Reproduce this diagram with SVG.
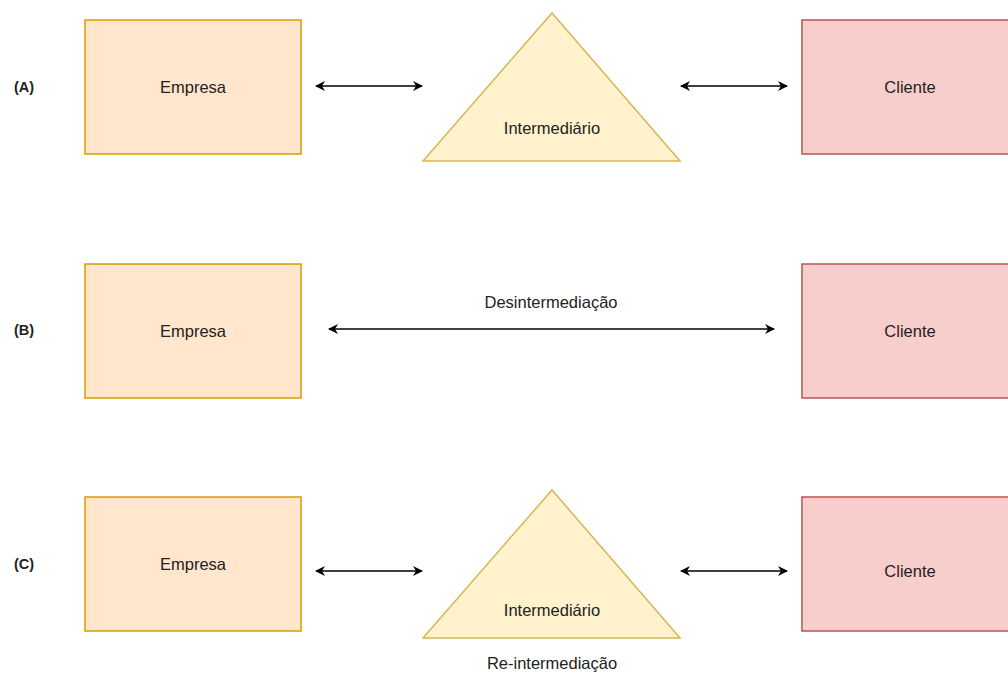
<svg xmlns="http://www.w3.org/2000/svg" width="1008" height="673" viewBox="0 0 1008 673">
<defs>
<marker id="ah" viewBox="0 0 10 10" refX="9" refY="5" markerWidth="11" markerHeight="10" orient="auto-start-reverse" markerUnits="userSpaceOnUse">
<path d="M0,0 L10,5 L0,10 L3,5 Z" fill="#000"/>
</marker>
</defs>
<style>
text{font-family:"Liberation Sans","Open Sans",sans-serif;font-size:16.5px;fill:#222;text-anchor:middle;dominant-baseline:central}
.lab{font-weight:bold;font-size:14.5px}
.emp{fill:#ffe6cc;stroke:#d79b00;stroke-width:1.5}
.cli{fill:#f8cecc;stroke:#b85450;stroke-width:1.5}
.tri{fill:#fff2cc;stroke:#d6b656;stroke-width:1.5}
.con{stroke:#000;stroke-width:1.5;fill:none;marker-start:url(#ah);marker-end:url(#ah)}
</style>
<rect width="1008" height="673" fill="#fff"/>
<g id="labels">
<text class="lab" x="24" y="87">(A)</text>
<text class="lab" x="24" y="330">(B)</text>
<text class="lab" x="24" y="564">(C)</text>
</g>
<g id="empresaA"><rect class="emp" x="85" y="20" width="216" height="134"/><text x="193" y="87">Empresa</text></g>
<g id="intermediarioA"><polygon class="tri" points="552,13 680,161 423,161"/><text x="552" y="128">Intermediário</text></g>
<g id="clienteA"><rect class="cli" x="802" y="20" width="216" height="134"/><text x="910" y="87">Cliente</text></g>
<g id="empresaB"><rect class="emp" x="85" y="264" width="216" height="134"/><text x="193" y="331">Empresa</text></g>
<g id="clienteB"><rect class="cli" x="802" y="264" width="216" height="134"/><text x="910" y="331">Cliente</text></g>
<g id="empresaC"><rect class="emp" x="85" y="497" width="216" height="134"/><text x="193" y="564">Empresa</text></g>
<g id="intermediarioC"><polygon class="tri" points="552,490 680,638 423,638"/><text x="552" y="610">Intermediário</text></g>
<g id="clienteC"><rect class="cli" x="802" y="497" width="216" height="134"/><text x="910" y="571">Cliente</text></g>
<g id="connectors">
<line class="con" x1="316" y1="86" x2="422" y2="86"/>
<line class="con" x1="681" y1="86" x2="787" y2="86"/>
<line class="con" x1="329" y1="329" x2="774" y2="329"/>
<text x="551" y="302">Desintermediação</text>
<line class="con" x1="316" y1="571" x2="422" y2="571"/>
<line class="con" x1="681" y1="571" x2="787" y2="571"/>
<text x="552" y="663">Re-intermediação</text>
</g>
</svg>
